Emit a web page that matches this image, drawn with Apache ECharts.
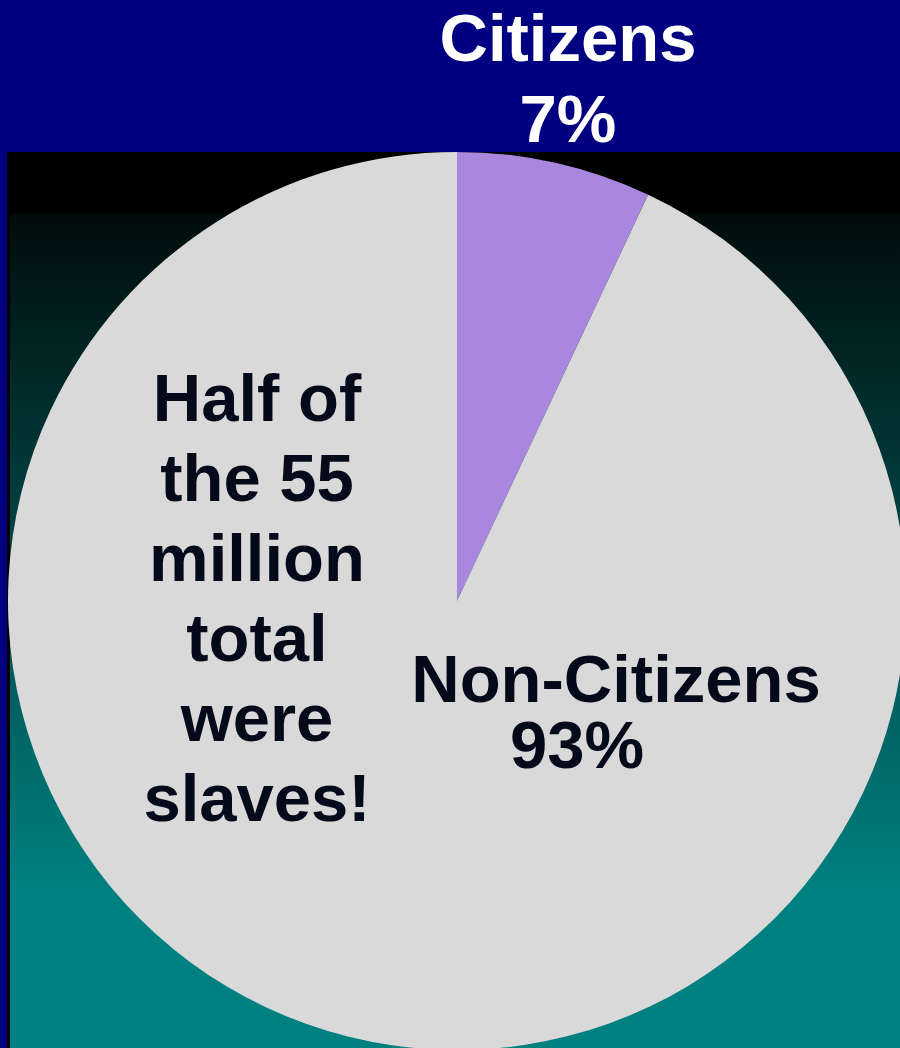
<!DOCTYPE html>
<html>
<head>
<meta charset="utf-8">
<script src="https://cdn.jsdelivr.net/npm/echarts@6/dist/echarts.min.js"></script>
<style>
html,body{margin:0;padding:0;background:#000080;}
#c{width:900px;height:1048px;}
</style>
</head>
<body>
<div id="c"></div>
<script>
const categories = ['Citizens', 'Non-Citizens'];
const shares = [7, 93];
const noteLines = ['Half of', 'the 55', 'million', 'total', 'were', 'slaves!'];

const FONT = '"Liberation Sans", Arial, sans-serif';
const dark = '#050a1a';

const chart = echarts.init(document.getElementById('c'), null, {renderer: 'canvas'});

const labelSpots = [
  {x: 568, y: 83, color: '#ffffff'},
  {x: 616, y: 717, color: dark}
];

chart.setOption({
  animation: false,
  graphic: [
    {type: 'rect', z: 0, shape: {x: 0, y: 0, width: 900, height: 1048}, style: {fill: '#000080'}},
    {type: 'rect', z: 1, shape: {x: 7, y: 152, width: 893, height: 896}, style: {fill: '#000000'}},
    {type: 'rect', z: 2, shape: {x: 10, y: 152, width: 890, height: 896},
      style: {fill: new echarts.graphic.LinearGradient(0, 0, 0, 1, [
        {offset: 0, color: '#000000'},
        {offset: 0.068, color: '#000000'},
        {offset: 0.07, color: '#020c0c'},
        {offset: 0.82, color: '#008080'},
        {offset: 1, color: '#008080'}
      ])}},
    {type: 'text', z: 100, x: 257, y: 603,
      style: {text: noteLines.join('\n'), align: 'center', textAlign: 'center',
        verticalAlign: 'middle', textVerticalAlign: 'middle',
        font: 'bold 67px ' + FONT, fill: dark, lineHeight: 80}}
  ],
  series: [{
    type: 'pie',
    z: 10,
    center: [457, 601],
    radius: 449,
    startAngle: 90,
    clockwise: true,
    silent: true,
    itemStyle: {borderWidth: 0},
    labelLine: {show: false},
    data: categories.map((name, i) => ({
      name: name,
      value: shares[i],
      itemStyle: {color: i === 0 ? '#a987df' : '#d9d9d9'},
      label: {
        show: true,
        position: 'inside',
        overflow: 'none',
        formatter: i === 0 ? '{a|{b}}\n{a|{c}%}' : '{a|{b}}\n{b|{c}%}',
        rich: {
          a: {fontFamily: FONT, fontWeight: 'bold', fontSize: 67, color: labelSpots[i].color,
              lineHeight: i === 0 ? 81 : 66},
          b: {fontFamily: FONT, fontWeight: 'bold', fontSize: 67, color: labelSpots[i].color,
              lineHeight: 66, padding: [0, 78, 0, 0]}
        }
      }
    })),
    labelLayout: function (p) {
      const s = labelSpots[p.dataIndex];
      return {x: s.x, y: s.y, align: 'center', verticalAlign: 'middle'};
    }
  }]
});
</script>
</body>
</html>
